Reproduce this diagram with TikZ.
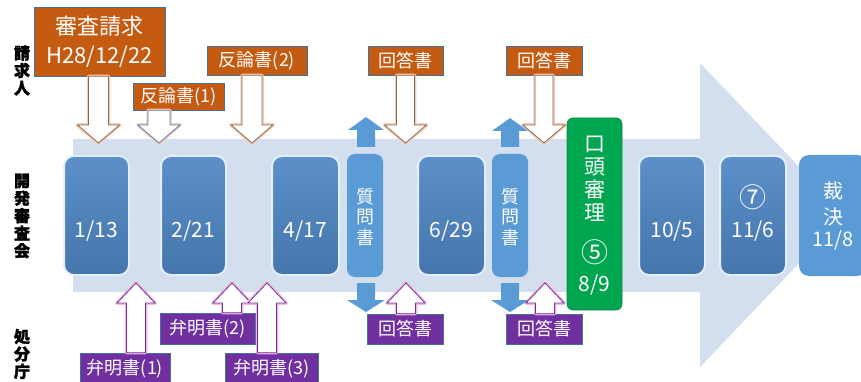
\documentclass[tikz,border=0pt]{standalone}
\usepackage{fontspec}
\setmainfont{Noto Sans CJK JP}
\newfontfamily\heavyfont{Noto Sans CJK JP}[FakeBold=1.8]
\usetikzlibrary{calc}
\definecolor{flow}{HTML}{D3DEEF}
\definecolor{datefill}{HTML}{4E86C4}
\definecolor{dateedge}{HTML}{E2EFFA}
\definecolor{qfill}{HTML}{5B9BD5}
\definecolor{orng}{HTML}{C55A11}
\definecolor{purp}{HTML}{7030A0}
\definecolor{edgeb}{HTML}{41719C}
\definecolor{grn}{HTML}{00A550}
\definecolor{grnedge}{HTML}{0B8A40}
\definecolor{brownline}{HTML}{7F6A5C}
\definecolor{glowO}{HTML}{F8CBAD}
\definecolor{glowP}{HTML}{F2B5DE}
\definecolor{blueline}{HTML}{4A7EBB}
% #1 style, #2 start, #3 tip, #4 shaft half width, #5 head half width, #6 signed head length
\newcommand\blockarr[6]{%
  \path[#1] let \p1=(#2), \p2=(#3) in
    ({\x2-#4pt},{\y1}) -- ({\x2-#4pt},{\y2+(#6pt)}) -- ({\x2-#5pt},{\y2+(#6pt)}) -- (\x2,\y2)
    -- ({\x2+#5pt},{\y2+(#6pt)}) -- ({\x2+#4pt},{\y2+(#6pt)}) -- ({\x2+#4pt},{\y1}) -- cycle;}
\tikzset{
  datebox/.style={draw=dateedge, line width=2pt, rounded corners=10pt,
    top color=datefill!92!white, bottom color=datefill!88!black,
    minimum height=119pt, inner sep=0pt},
  qbox/.style={fill=qfill, rounded corners=8pt, minimum width=36pt, minimum height=123pt, inner sep=0pt},
  wtext/.style={text=white, inner sep=0pt},
  datetext/.style={wtext, font=\fontsize{21}{24}\selectfont},
  circtext/.style={wtext, font=\fontsize{27}{28}\selectfont},
  stacktext/.style={wtext, align=center},
  obox/.style={fill=orng, draw=edgeb, line width=0.7pt, text=white, inner sep=0pt,
    font=\fontsize{18}{20}\selectfont},
  pbox/.style={fill=purp, draw=edgeb, line width=0.7pt, text=white, inner sep=0pt,
    font=\fontsize{18}{20}\selectfont},
  sidelabel/.style={align=center, inner sep=0pt, font=\heavyfont\bfseries\fontsize{16}{17.5}\selectfont},
  hollowO/.style={preaction={draw=glowO, line width=3.5pt, line join=round},
    fill=white, draw=brownline, line width=0.8pt},
  hollowOB/.style={preaction={draw=glowO, line width=3.5pt, line join=round},
    fill=white, draw=blueline, line width=0.8pt},
  hollowP/.style={preaction={draw=glowP, line width=3.5pt, line join=round},
    fill=white, draw=purp, line width=0.8pt},
  solidB/.style={fill=qfill, draw=none},
}
\begin{document}
\begin{tikzpicture}[x=1pt,y=-1pt]
\useasboundingbox (0,0) rectangle (861,382);
\clip (0,0) rectangle (861,382);

% big flow arrow
\fill[flow] (73,139) -- (700,139) -- (700,63) -- (845,215) -- (700,367) -- (700,292) -- (73,292) -- cycle;

% side labels
\node[sidelabel] (lq) at (22,70.5) {請\\求\\人};
\node[sidelabel] (lk) at (22,216) {開\\発\\審\\査\\会};
\node[sidelabel] (ls) at (22,354) {処\\分\\庁};

% top boxes
\node[obox, minimum width=131pt, minimum height=69pt, align=center,
  font=\fontsize{22}{28.5}\selectfont] (rq) at (99.5,41.5) {審査請求\\H28/12/22};
\node[obox, minimum width=91pt, minimum height=27pt] (r1) at (178.5,96.5) {反論書(1)};
\node[obox, minimum width=100pt, minimum height=29pt] (r2) at (257,60.5) {反論書(2)};
\node[obox, minimum width=75pt, minimum height=29pt] (k1) at (405.5,60.5) {回答書};
\node[obox, minimum width=76pt, minimum height=29pt] (k2) at (544,60.5) {回答書};

% bottom boxes
\node[pbox, minimum width=90pt, minimum height=31pt] (m1) at (125,368.5) {弁明書(1)};
\node[pbox, minimum width=95pt, minimum height=31pt] (m2) at (207.5,328.5) {弁明書(2)};
\node[pbox, minimum width=93pt, minimum height=31pt] (m3) at (271.5,368.5) {弁明書(3)};
\node[pbox, minimum width=76pt, minimum height=30pt] (k3) at (405,329) {回答書};
\node[pbox, minimum width=76pt, minimum height=30pt] (k4) at (544,329) {回答書};

% tips / free ends of block arrows
\coordinate (ta1) at (98.5,143);
\coordinate (ta2) at (159,143);
\coordinate (ta3) at (252,143);
\coordinate (ta4) at (405.5,143);
\coordinate (ta5) at (544,143);
\coordinate (su1) at (366,147);
\coordinate (tu1) at (366,117);
\coordinate (su2) at (510,147);
\coordinate (tu2) at (510,118);
\coordinate (sd1) at (366,283);
\coordinate (td1) at (366,312);
\coordinate (sd2) at (510,283);
\coordinate (td2) at (510,312);
\coordinate (tp1) at (406,283);
\coordinate (tp2) at (545,283);
\coordinate (tp3) at (136,283);
\coordinate (tp4) at (232,283);
\coordinate (tp5) at (267,283);

% hollow arrows from the top
\blockarr{hollowO}{rq.south}{ta1}{10}{21}{18}
\blockarr{hollowOB}{r1.south}{ta2}{11}{21}{18}
\blockarr{hollowO}{r2.south}{ta3}{10}{21}{18}
\blockarr{hollowO}{k1.south}{ta4}{9}{21}{18}
\blockarr{hollowO}{k2.south}{ta5}{9}{21}{18}

% hollow arrows from below
\blockarr{hollowP}{k3.north}{tp1}{9.5}{19}{-20}
\blockarr{hollowP}{k4.north}{tp2}{9.5}{19}{-20}
\blockarr{hollowP}{m1.north}{tp3}{9.5}{19}{-20}
\blockarr{hollowP}{m2.north}{tp4}{9.5}{19}{-20}
\blockarr{hollowP}{m3.north}{tp5}{9.5}{19}{-20}

% solid blue arrows
\blockarr{solidB}{su1}{tu1}{9}{18}{-13}
\blockarr{solidB}{su2}{tu2}{9}{18}{-13}
\blockarr{solidB}{sd1}{td1}{9}{19}{12}
\blockarr{solidB}{sd2}{td2}{9}{19}{12}

% date boxes
\node[datebox, minimum width=65pt] (b1) at (96.5,215.5) {};
\node[datebox, minimum width=65pt] (b2) at (193.5,215.5) {};
\node[datebox, minimum width=67pt] (b3) at (305.5,215.5) {};
\node[datebox, minimum width=67pt] (b4) at (451.5,215.5) {};
\node[datebox, minimum width=66pt] (b5) at (672,215.5) {};
\node[datebox, minimum width=66pt] (b6) at (753,215.5) {};
\node[datetext] (b1t) at (96.5,231) {1/13};
\node[datetext] (b2t) at (193.5,231) {2/21};
\node[datetext] (b3t) at (305.5,231) {4/17};
\node[datetext] (b4t) at (451.5,231) {6/29};
\node[datetext] (b5t) at (672,231) {10/5};
\node[circtext] (b6c) at (753,197) {⑦};
\node[datetext] (b6t) at (753,231) {11/6};

% question boxes
\node[qbox] (q1) at (365,215.5) {};
\node[qbox] (q2) at (510,215.5) {};
\node[stacktext, font=\fontsize{18}{20.5}\selectfont] (q1t) at (365,217) {質\\問\\書};
\node[stacktext, font=\fontsize{18}{20.5}\selectfont] (q2t) at (510,217) {質\\問\\書};

% oral hearing
\node[fill=grn, draw=grnedge, line width=0.7pt, rounded corners=6pt, minimum width=55pt,
  minimum height=192pt, inner sep=0pt] (g) at (594.5,214) {};
\node[stacktext, font=\fontsize{21}{23}\selectfont] (gt) at (594.5,179) {口\\頭\\審\\理};
\node[circtext] (g5) at (594.5,252) {⑤};
\node[datetext] (g89) at (594.5,285) {8/9};

% decision
\node[qbox, minimum width=68pt, minimum height=121pt, rounded corners=10pt] (s) at (833,215.5) {};
\node[stacktext, font=\fontsize{20}{25.5}\selectfont] (st) at (833,204) {裁\\決};
\node[wtext, font=\fontsize{20}{24}\selectfont] (sd) at (833,240) {11/8};
\end{tikzpicture}
\end{document}
